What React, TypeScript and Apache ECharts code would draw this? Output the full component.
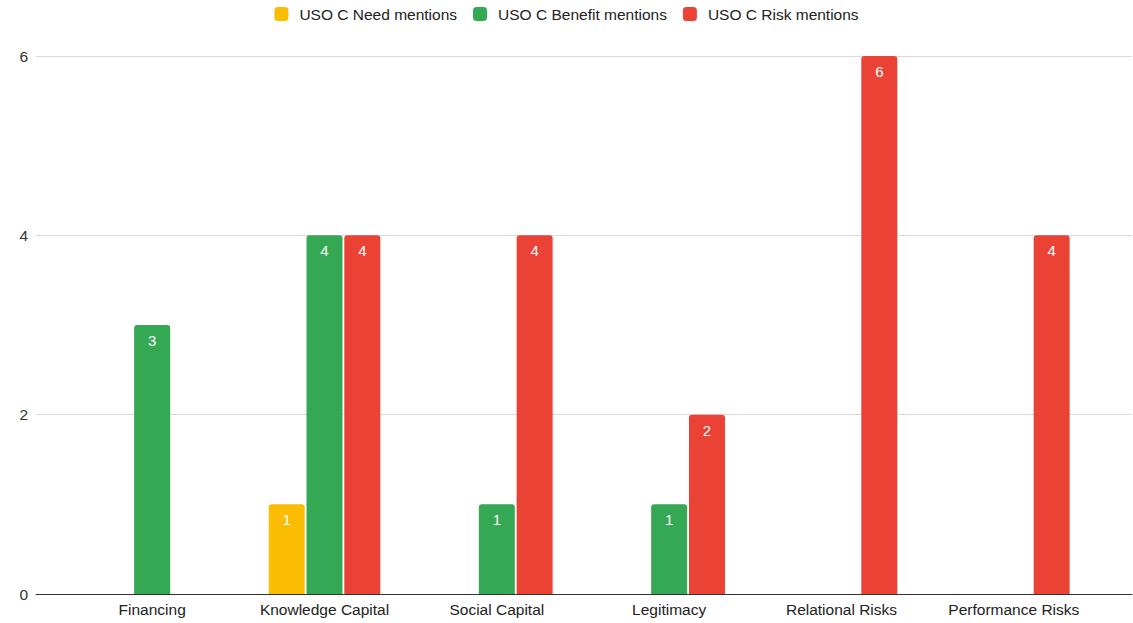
import React, { useEffect, useRef } from "react";
import * as echarts from "echarts";

const categories = [
  "Financing",
  "Knowledge Capital",
  "Social Capital",
  "Legitimacy",
  "Relational Risks",
  "Performance Risks",
];
const needMentions: (number | null)[] = [null, 1, null, null, null, null];
const benefitMentions: (number | null)[] = [3, 4, 1, 1, null, null];
const riskMentions: (number | null)[] = [null, 4, 4, 2, 6, 4];
const yTicks = [0, 2, 4, 6];

const seriesDefs = [
  { name: "USO C Need mentions", data: needMentions, color: "#fbbc04" },
  { name: "USO C Benefit mentions", data: benefitMentions, color: "#34a853" },
  { name: "USO C Risk mentions", data: riskMentions, color: "#ea4335" },
];

const FONT = "'Liberation Sans', Arial, sans-serif";

export default function App() {
  const ref = useRef<HTMLDivElement>(null);

  useEffect(() => {
    if (!ref.current) return;
    const chart = echarts.init(ref.current, undefined, { renderer: "svg" });
    const yMax = yTicks[yTicks.length - 1];
    chart.setOption({
      animation: false,
      backgroundColor: "#ffffff",
      textStyle: { fontFamily: FONT },
      legend: {
        top: 1,
        left: "center",
        itemWidth: 14,
        itemHeight: 14,
        itemGap: 16,
        icon: "roundRect",
        textStyle: { fontFamily: FONT, fontSize: 15.5, color: "#222222", padding: [0, 0, 0, 6] },
        data: seriesDefs.map((s) => s.name),
      },
      grid: [
        { left: 36, right: 1, top: 56, bottom: 29 },
        { left: 66, right: 33, top: 56, bottom: 29 },
      ],
      xAxis: [
        {
          gridIndex: 0,
          type: "value",
          min: 0,
          max: 1,
          axisLine: { show: true, onZero: false, lineStyle: { color: "#333333", width: 1 } },
          axisTick: { show: false },
          axisLabel: { show: false },
          splitLine: { show: false },
        },
        {
          gridIndex: 1,
          type: "category",
          data: categories,
          axisLine: { show: false },
          axisTick: { show: false },
          axisLabel: { fontFamily: FONT, fontSize: 15.5, color: "#222222", margin: 7 },
        },
      ],
      yAxis: [
        {
          gridIndex: 0,
          type: "value",
          min: 0,
          max: yMax,
          interval: 2,
          axisLine: { show: false },
          axisTick: { show: false },
          axisLabel: { fontFamily: FONT, fontSize: 15.5, color: "#333333", margin: 8 },
          splitLine: { show: true, lineStyle: { color: "#d9d9d9", width: 1 } },
        },
        {
          gridIndex: 1,
          type: "value",
          min: 0,
          max: yMax,
          interval: 2,
          show: false,
        },
      ],
      series: seriesDefs.map((s) => ({
        name: s.name,
        type: "bar",
        xAxisIndex: 1,
        yAxisIndex: 1,
        data: s.data,
        barWidth: 36,
        barGap: "5%",
        itemStyle: { color: s.color, borderRadius: [3, 3, 0, 0] },
        label: {
          show: true,
          position: "insideTop",
          distance: 8,
          color: "#ffffff",
          fontFamily: FONT,
          fontSize: 15,
        },
      })),
    });
    return () => chart.dispose();
  }, []);

  return <div ref={ref} style={{ width: 1133, height: 623, position: "absolute", left: 0, top: 0 }} />;
}
